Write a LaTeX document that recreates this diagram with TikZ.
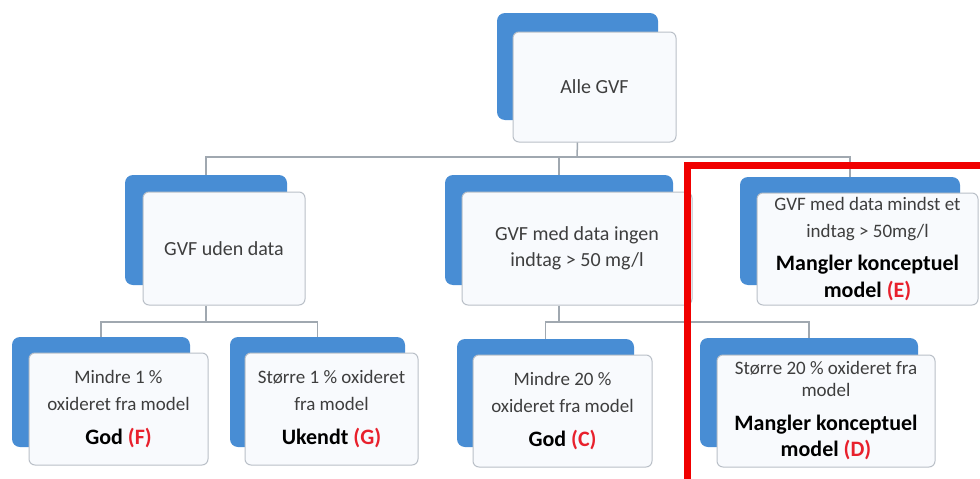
\documentclass[tikz,border=0pt]{standalone}
\usepackage{fontspec}
\setmainfont{Carlito}
\usepackage{xcolor}
\usepackage{tikz}

\definecolor{cardblue}{RGB}{72,141,212}
\definecolor{cardline}{RGB}{186,192,200}
\definecolor{cardfill}{RGB}{248,250,253}
\definecolor{connline}{RGB}{160,168,176}
\definecolor{textgrey}{RGB}{62,62,62}
\definecolor{labred}{RGB}{232,32,44}
\definecolor{framered}{RGB}{240,0,0}

\tikzset{
    back/.style={rectangle, rounded corners=8pt, fill=cardblue, inner sep=0pt},
    front/.style={rectangle, rounded corners=6pt, draw=cardline, line width=1pt,
        fill=cardfill, inner sep=2pt, align=center, text=textgrey,
        font=\fontsize{19}{27}\selectfont},
    conn/.style={draw=connline, line width=1.5pt},
    redframe/.style={draw=framered, line width=6.5pt}
}
\newcommand{\boldline}[1]{{\fontsize{22}{26}\selectfont\bfseries\color{black}#1}}
\newcommand{\caselab}[1]{\textcolor{labred}{(#1)}}

\begin{document}
\begin{tikzpicture}[x=1pt, y=-1pt]
            \useasboundingbox[fill=white] (0,0) rectangle (980,479);
            % top
            \node[back, minimum width=161pt, minimum height=107pt] (alleb) at (577.5,66.5) {};
            \node[front, minimum width=163pt, minimum height=110pt, font=\fontsize{20}{25}\selectfont] (alle) at (594.5,87) {Alle GVF};
            % second row
            \node[back, minimum width=162pt, minimum height=110pt] (udenb) at (206,230) {};
            \node[front, minimum width=162pt, minimum height=113pt, font=\fontsize{20}{25}\selectfont] (uden) at (224,248.5) {GVF uden data};
            \node[back, minimum width=228pt, minimum height=110pt] (ingenb) at (559,230) {};
            \node[front, minimum width=230pt, minimum height=113pt, font=\fontsize{20}{26}\selectfont] (ingen) at (577,248.5)
                {GVF med data ingen\\ indtag > 50 mg/l};
            \node[back, minimum width=220pt, minimum height=108pt] (mindstb) at (850,231) {};
            \node[front, minimum width=221pt, minimum height=112pt, font=\fontsize{19}{27}\selectfont] (mindst) at (867.5,249)
                {GVF med data mindst et\\ indtag > 50mg/l\\[6pt]
                 \boldline{Mangler konceptuel}\\ \boldline{model \caselab{E}}};
            % third row
            \node[back, minimum width=178pt, minimum height=110pt] (fb) at (101,392) {};
            \node[front, minimum width=179pt, minimum height=112pt] (f) at (118.5,409)
                {Mindre 1 \%\\ oxideret fra model\\[7pt] \boldline{God \caselab{F}}};
            \node[back, minimum width=175pt, minimum height=110pt] (gb) at (317.5,392) {};
            \node[front, minimum width=173pt, minimum height=112pt] (g) at (331.5,409)
                {Større 1 \% oxideret\\ fra model\\[7pt] \boldline{Ukendt \caselab{G}}};
            \node[back, minimum width=177pt, minimum height=108pt] (cb) at (545.5,393) {};
            \node[front, minimum width=179pt, minimum height=112pt] (c) at (562.5,411)
                {Mindre 20 \%\\ oxideret fra model\\[7pt] \boldline{God \caselab{C}}};
            \node[back, minimum width=218pt, minimum height=109pt] (db) at (809,392.5) {};
            \node[front, minimum width=218pt, minimum height=112pt, font=\fontsize{19}{22}\selectfont] (d) at (826,411)
                {Større 20 \% oxideret fra\\ model\\[12pt]
                 \boldline{Mangler konceptuel}\\[4pt] \boldline{model \caselab{D}}};
            % connectors
            \coordinate (bus0) at (577,157);
            \coordinate (bus1) at (206,322);
            \coordinate (bus2) at (559,322);
            \draw[conn] (alleb.center |- alle.south) -- (bus0);
            \draw[conn] (bus0) -| (udenb.north);
            \draw[conn] (bus0) -| (ingenb.north);
            \draw[conn] (bus0) -| (mindstb.north);
            \draw[conn] (udenb.center |- uden.south) -- (bus1);
            \draw[conn] (bus1) -| (fb.north);
            \draw[conn] (bus1) -| (gb.north);
            \draw[conn] (ingenb.center |- ingen.south) -- (bus2);
            \draw[conn] (bus2) -| (cb.north);
            \draw[conn] (bus2) -| (db.north);
            % marked part
            \draw[redframe] (985,165.5) -| (687.5,485);
        \end{tikzpicture}
\end{document}
